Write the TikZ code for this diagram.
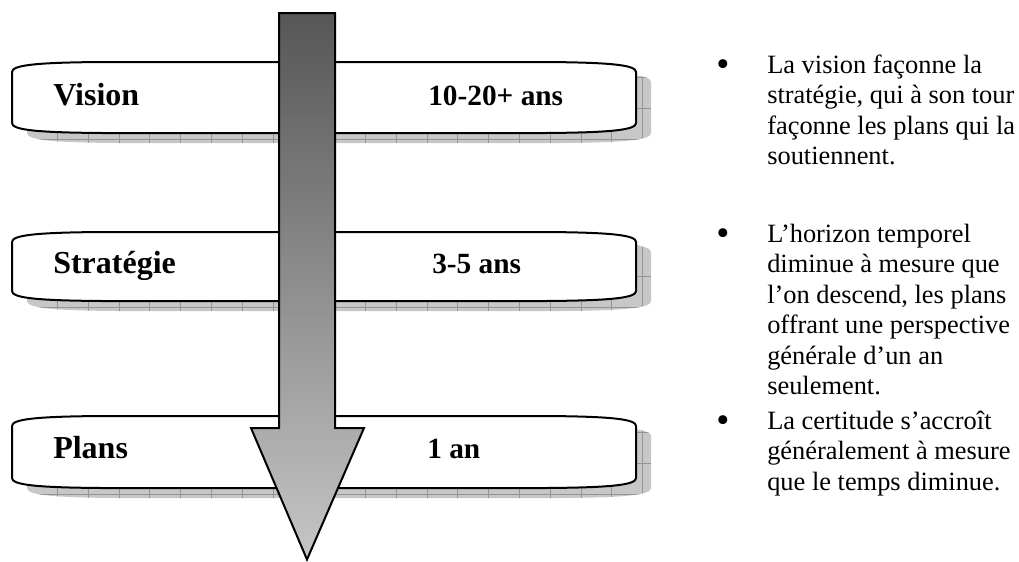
\documentclass[tikz,border=0pt]{standalone}
\usepackage{fontspec}
\setmainfont{Liberation Serif}

% Outline of a ribbon with curled ends: left x, right x, top y, bottom y
\newcommand{\ribbonpath}[4]{%
  (#1,#3+10) .. controls (#1,#3+3) and (#1+25,#3+0.5) .. (#1+90,#3)
  -- (#2-90,#3) .. controls (#2-25,#3+0.5) and (#2,#3+3) .. (#2,#3+10)
  -- (#2,#4-10) .. controls (#2,#4-3) and (#2-25,#4-0.5) .. (#2-90,#4)
  -- (#1+90,#4) .. controls (#1+25,#4-0.5) and (#1,#4-3) .. (#1,#4-10)
  -- cycle}

% Ribbon with its grey gridded drop shadow
\newcommand{\ribbon}[2]{%
  \fill[ribbonshadow] \ribbonpath{27}{651}{#1+10}{#2+10};
  \begin{scope}
    \clip \ribbonpath{27}{651}{#1+10}{#2+10};
    \foreach \gx in {0,...,21} {
      \draw[shadowgrid] (26.5+30.8*\gx,#1) -- (26.5+30.8*\gx,#2+12);
    }
    \foreach \gy in {0,...,3} {
      \draw[shadowgrid] (20,#2+6-30.8*\gy) -- (660,#2+6-30.8*\gy);
    }
  \end{scope}
  \draw[ribbonline] \ribbonpath{12}{636}{#1}{#2};
}

\tikzset{
  ribbonshadow/.style={fill=black!22},
  shadowgrid/.style={draw=black!42, line width=0.4pt},
  ribbonline/.style={draw=black, fill=white, line width=1.5pt, line join=round},
  termlabel/.style={font=\bfseries\fontsize{24pt}{28pt}\selectfont, inner sep=0pt, anchor=base west},
  spanlabel/.style={font=\bfseries\fontsize{22pt}{26pt}\selectfont, inner sep=0pt, anchor=base west},
  noteline/.style={font=\fontsize{19.8pt}{23pt}\selectfont, inner sep=0pt, anchor=base west},
  bulletmark/.style={font=\fontsize{28pt}{30pt}\selectfont, inner sep=0pt, anchor=base west},
  timearrow/.style={draw=black, line width=1.5pt, line join=miter,
    top color={rgb,255:red,86;green,86;blue,86},
    bottom color={rgb,255:red,198;green,198;blue,198}}
}

\begin{document}
\begin{tikzpicture}[x=0.75pt, y=-0.75pt]
  \useasboundingbox (0,0) rectangle (1019,561);

  % Three time-horizon ribbons
  \ribbon{62}{133}
  \ribbon{232}{301}
  \ribbon{416}{488}

  % Ribbon labels
  \node[termlabel] (vision) at (53,105) {Vision};
  \node[spanlabel] (visionspan) at (428,105) {10-20+ ans};
  \node[termlabel] (strategie) at (53,273) {Stratégie};
  \node[spanlabel] (strategiespan) at (432,273) {3-5 ans};
  \node[termlabel] (plans) at (53,458) {Plans};
  \node[spanlabel] (plansspan) at (427,458) {1 an};

  % Downward arrow across the ribbons
  \coordinate (shaftTL) at (279,13);
  \coordinate (shaftTR) at (335,13);
  \coordinate (shaftBR) at (335,428);
  \coordinate (wingR) at (364,428);
  \coordinate (tip) at (307,559.5);
  \coordinate (wingL) at (251,428);
  \coordinate (shaftBL) at (279,428);
  \draw[timearrow] (shaftTL) -- (shaftTR) -- (shaftBR) -- (wingR) -- (tip)
    -- (wingL) -- (shaftBL) -- cycle;

  % Bulleted notes
  \node[bulletmark] (dot1) at (716,76) {•};
  \node[noteline] (n1a) at (767,73) {La vision façonne la};
  \node[noteline] (n1b) at (767,103.5) {stratégie, qui à son tour};
  \node[noteline] (n1c) at (767,134) {façonne les plans qui la};
  \node[noteline] (n1d) at (767,164.5) {soutiennent.};

  \node[bulletmark] (dot2) at (716,245) {•};
  \node[noteline] (n2a) at (767,242) {L’horizon temporel};
  \node[noteline] (n2b) at (767,272.5) {diminue à mesure que};
  \node[noteline] (n2c) at (767,303) {l’on descend, les plans};
  \node[noteline] (n2d) at (767,333.5) {offrant une perspective};
  \node[noteline] (n2e) at (767,364) {générale d’un an};
  \node[noteline] (n2f) at (767,394.5) {seulement.};

  \node[bulletmark] (dot3) at (716,432) {•};
  \node[noteline] (n3a) at (767,429) {La certitude s’accroît};
  \node[noteline] (n3b) at (767,459.5) {généralement à mesure};
  \node[noteline] (n3c) at (767,490) {que le temps diminue.};
\end{tikzpicture}
\end{document}
